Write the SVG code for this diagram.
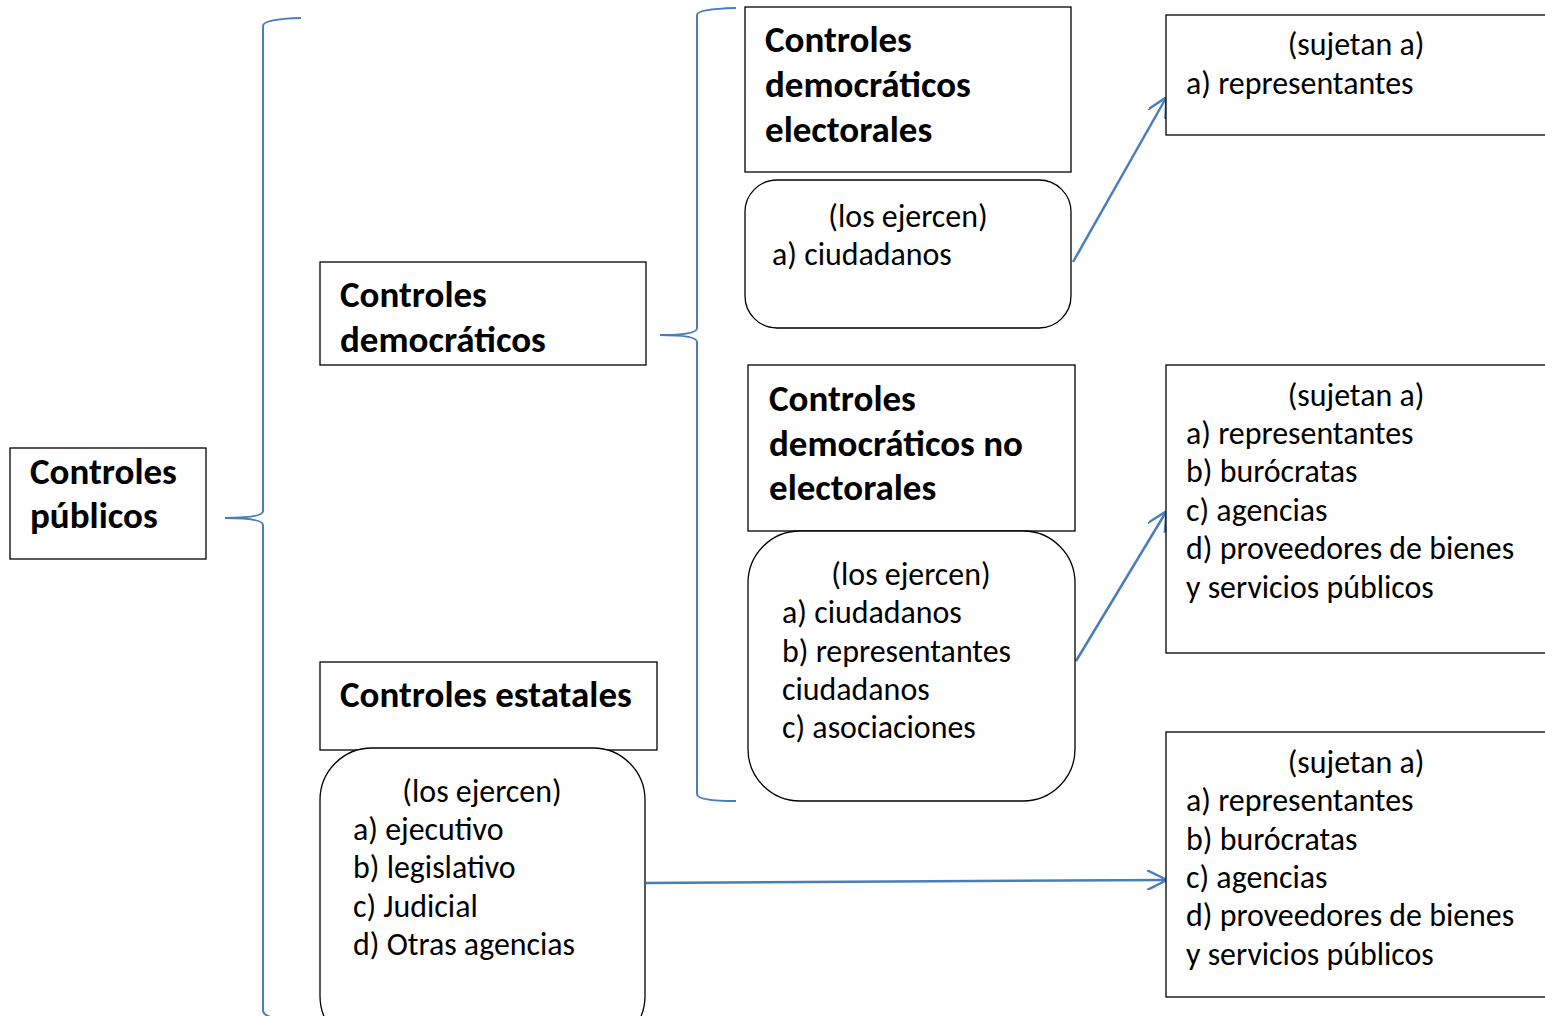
<svg xmlns="http://www.w3.org/2000/svg" width="1545" height="1016" viewBox="0 0 1545 1016">
<style>
.box{fill:#fff;stroke:#000;stroke-width:1.3}
.b{font-family:Carlito,Lato,"Liberation Sans",sans-serif;font-weight:bold;font-size:37px;fill:#000}
.r{font-family:Carlito,Lato,"Liberation Sans",sans-serif;font-size:31.9px;fill:#000}
.c{text-anchor:middle}
.brace{fill:none;stroke:#4A7EBB;stroke-width:2}
.arr{fill:none;stroke:#4A7EBB;stroke-width:2.5;marker-end:url(#ah)}
</style>
<defs>
<marker id="ah" viewBox="0 0 10 10" refX="9.5" refY="5" markerWidth="8" markerHeight="8" orient="auto" markerUnits="strokeWidth">
<path d="M0,0 L10,5 L0,10" fill="none" stroke="#4A7EBB" stroke-width="1.2"/>
</marker>
</defs>
<rect width="1545" height="1016" fill="#fff"/>
<g id="connectors">
<path class="brace" d="M301,18 Q263,19 263,26 L263,511 Q263,518 225,518 Q263,518 263,525 L263,1010 Q263,1016 275,1018"/>
<path class="brace" d="M736,8 Q697,9 697,15 L697,328 Q697,335 660,335 Q697,335 697,342 L697,794 Q697,801 736,801"/>
<line class="arr" x1="1073" y1="262" x2="1166" y2="98"/>
<line class="arr" x1="1076" y1="661" x2="1166" y2="512"/>
<line class="arr" x1="646" y1="883" x2="1166" y2="880"/>
</g>
<g id="n-publicos">
<rect class="box" x="10" y="448" width="196" height="111"/>
<text class="b" x="30" y="484">Controles</text>
<text class="b" x="30" y="528">públicos</text>
</g>
<g id="n-democraticos">
<rect class="box" x="320" y="262" width="326" height="103"/>
<text class="b" x="340" y="307">Controles</text>
<text class="b" x="340" y="352">democráticos</text>
</g>
<g id="n-electorales">
<rect class="box" x="745" y="7" width="326" height="165"/>
<text class="b" x="765" y="52">Controles</text>
<text class="b" x="765" y="97">democráticos</text>
<text class="b" x="765" y="142">electorales</text>
</g>
<g id="n-electorales-ejercen">
<rect class="box" x="745" y="180" width="326" height="148" rx="32" ry="32"/>
<text class="r c" x="908" y="227">(los ejercen)</text>
<text class="r" x="772" y="265">a) ciudadanos</text>
</g>
<g id="n-noelectorales">
<rect class="box" x="748" y="365" width="327" height="166"/>
<text class="b" x="769" y="411">Controles</text>
<text class="b" x="769" y="456">democráticos no</text>
<text class="b" x="769" y="500">electorales</text>
</g>
<g id="n-noelectorales-ejercen">
<rect class="box" x="748" y="531" width="327" height="270" rx="52" ry="52"/>
<text class="r c" x="911" y="585">(los ejercen)</text>
<text class="r" x="782" y="623">a) ciudadanos</text>
<text class="r" x="782" y="662">b) representantes</text>
<text class="r" x="782" y="700">ciudadanos</text>
<text class="r" x="782" y="738">c) asociaciones</text>
</g>
<g id="n-estatales">
<rect class="box" x="320" y="662" width="337" height="88"/>
<text class="b" x="340" y="707">Controles estatales</text>
</g>
<g id="n-estatales-ejercen">
<rect class="box" x="320" y="748" width="325" height="300" rx="52" ry="52"/>
<text class="r c" x="482" y="802">(los ejercen)</text>
<text class="r" x="353" y="840">a) ejecutivo</text>
<text class="r" x="353" y="878">b) legislativo</text>
<text class="r" x="353" y="917">c) Judicial</text>
<text class="r" x="353" y="955">d) Otras agencias</text>
</g>
<g id="n-sujetan1">
<rect class="box" x="1166" y="15" width="400" height="120"/>
<text class="r c" x="1356" y="55">(sujetan a)</text>
<text class="r" x="1186" y="94">a) representantes</text>
</g>
<g id="n-sujetan2">
<rect class="box" x="1166" y="365" width="400" height="288"/>
<text class="r c" x="1356" y="406">(sujetan a)</text>
<text class="r" x="1186" y="444">a) representantes</text>
<text class="r" x="1186" y="482">b) burócratas</text>
<text class="r" x="1186" y="521">c) agencias</text>
<text class="r" x="1186" y="559">d) proveedores de bienes</text>
<text class="r" x="1186" y="598">y servicios públicos</text>
</g>
<g id="n-sujetan3">
<rect class="box" x="1166" y="732" width="400" height="265"/>
<text class="r c" x="1356" y="773">(sujetan a)</text>
<text class="r" x="1186" y="811">a) representantes</text>
<text class="r" x="1186" y="850">b) burócratas</text>
<text class="r" x="1186" y="888">c) agencias</text>
<text class="r" x="1186" y="926">d) proveedores de bienes</text>
<text class="r" x="1186" y="965">y servicios públicos</text>
</g>
</svg>
